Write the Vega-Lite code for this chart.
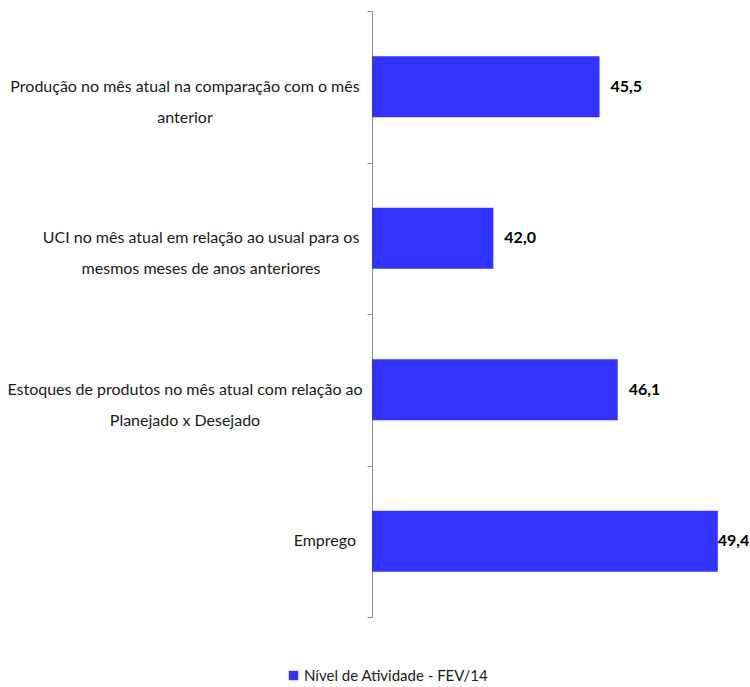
{
  "$schema": "https://vega.github.io/schema/vega-lite/v6.json",
  "autosize": "none",
  "width": 364,
  "height": 606,
  "padding": {"left": 372, "top": 11, "right": 14, "bottom": 70},
  "background": "white",
  "config": {
    "view": {"stroke": null},
    "font": "Lato"
  },
  "data": {
    "values": [
      {"indicador": "Produção no mês atual na comparação com o mês|anterior", "valor": 45.5, "serie": "Nível de Atividade - FEV/14"},
      {"indicador": "UCI no mês atual em relação ao usual para os|mesmos meses de anos anteriores", "valor": 42.0, "serie": "Nível de Atividade - FEV/14"},
      {"indicador": "Estoques de produtos no mês atual com relação ao|Planejado x Desejado", "valor": 46.1, "serie": "Nível de Atividade - FEV/14"},
      {"indicador": "Emprego", "valor": 49.4, "serie": "Nível de Atividade - FEV/14"}
    ]
  },
  "transform": [
    {"calculate": "replace(format(datum.valor, '.1f'), '.', ',')", "as": "rotulo"}
  ],
  "encoding": {
    "y": {
      "field": "indicador",
      "type": "nominal",
      "sort": null,
      "scale": {"paddingInner": 0, "paddingOuter": 0},
      "axis": {
        "title": null,
        "labels": false,
        "tickBand": "extent",
        "tickSize": 5,
        "tickColor": "#8c8c8c",
        "domainColor": "#8c8c8c",
        "grid": false
      }
    },
    "x": {
      "field": "valor",
      "type": "quantitative",
      "scale": {"domain": [38, 50], "zero": false, "nice": false},
      "axis": null
    }
  },
  "layer": [
    {
      "mark": {"type": "bar", "height": 61},
      "encoding": {
        "x2": {"datum": 38},
        "color": {
          "field": "serie",
          "type": "nominal",
          "scale": {"range": ["#3333ff"]},
          "legend": {
            "title": null,
            "orient": "none",
            "legendX": -86,
            "legendY": 657,
            "padding": 0,
            "symbolType": "square",
            "symbolSize": 90,
            "symbolStrokeWidth": 0,
            "labelFont": "Lato",
            "labelFontSize": 15,
            "labelColor": "#1a1a1a",
            "labelOffset": 3,
            "labelLimit": 0
          }
        }
      }
    },
    {
      "transform": [{"filter": "indexof(datum.indicador, 'Produção') == 0 || indexof(datum.indicador, 'Estoques') == 0"}],
      "mark": {"type": "text", "align": "center", "baseline": "middle", "dx": -187, "lineBreak": "|", "lineHeight": 31, "fontSize": 16, "font": "Lato", "color": "#1a1a1a"},
      "encoding": {
        "x": {"datum": 38},
        "text": {"field": "indicador", "type": "nominal"}
      }
    },
    {
      "transform": [{"filter": "indexof(datum.indicador, 'UCI') == 0"}],
      "mark": {"type": "text", "align": "center", "baseline": "middle", "dx": -171, "lineBreak": "|", "lineHeight": 31, "fontSize": 16, "font": "Lato", "color": "#1a1a1a"},
      "encoding": {
        "x": {"datum": 38},
        "text": {"field": "indicador", "type": "nominal"}
      }
    },
    {
      "transform": [{"filter": "datum.indicador == 'Emprego'"}],
      "mark": {"type": "text", "align": "right", "baseline": "middle", "dx": -16, "fontSize": 16, "font": "Lato", "color": "#1a1a1a"},
      "encoding": {
        "x": {"datum": 38},
        "text": {"field": "indicador", "type": "nominal"}
      }
    },
    {
      "transform": [{"filter": "datum.valor < 49"}],
      "mark": {"type": "text", "align": "left", "baseline": "middle", "dx": 11, "fontWeight": "bold", "fontSize": 16, "font": "Lato", "color": "#000000"},
      "encoding": {
        "text": {"field": "rotulo", "type": "nominal"}
      }
    },
    {
      "transform": [{"filter": "datum.valor >= 49"}],
      "mark": {"type": "text", "align": "left", "baseline": "middle", "dx": 0, "fontWeight": "bold", "fontSize": 16, "font": "Lato", "color": "#000000"},
      "encoding": {
        "text": {"field": "rotulo", "type": "nominal"}
      }
    }
  ]
}
